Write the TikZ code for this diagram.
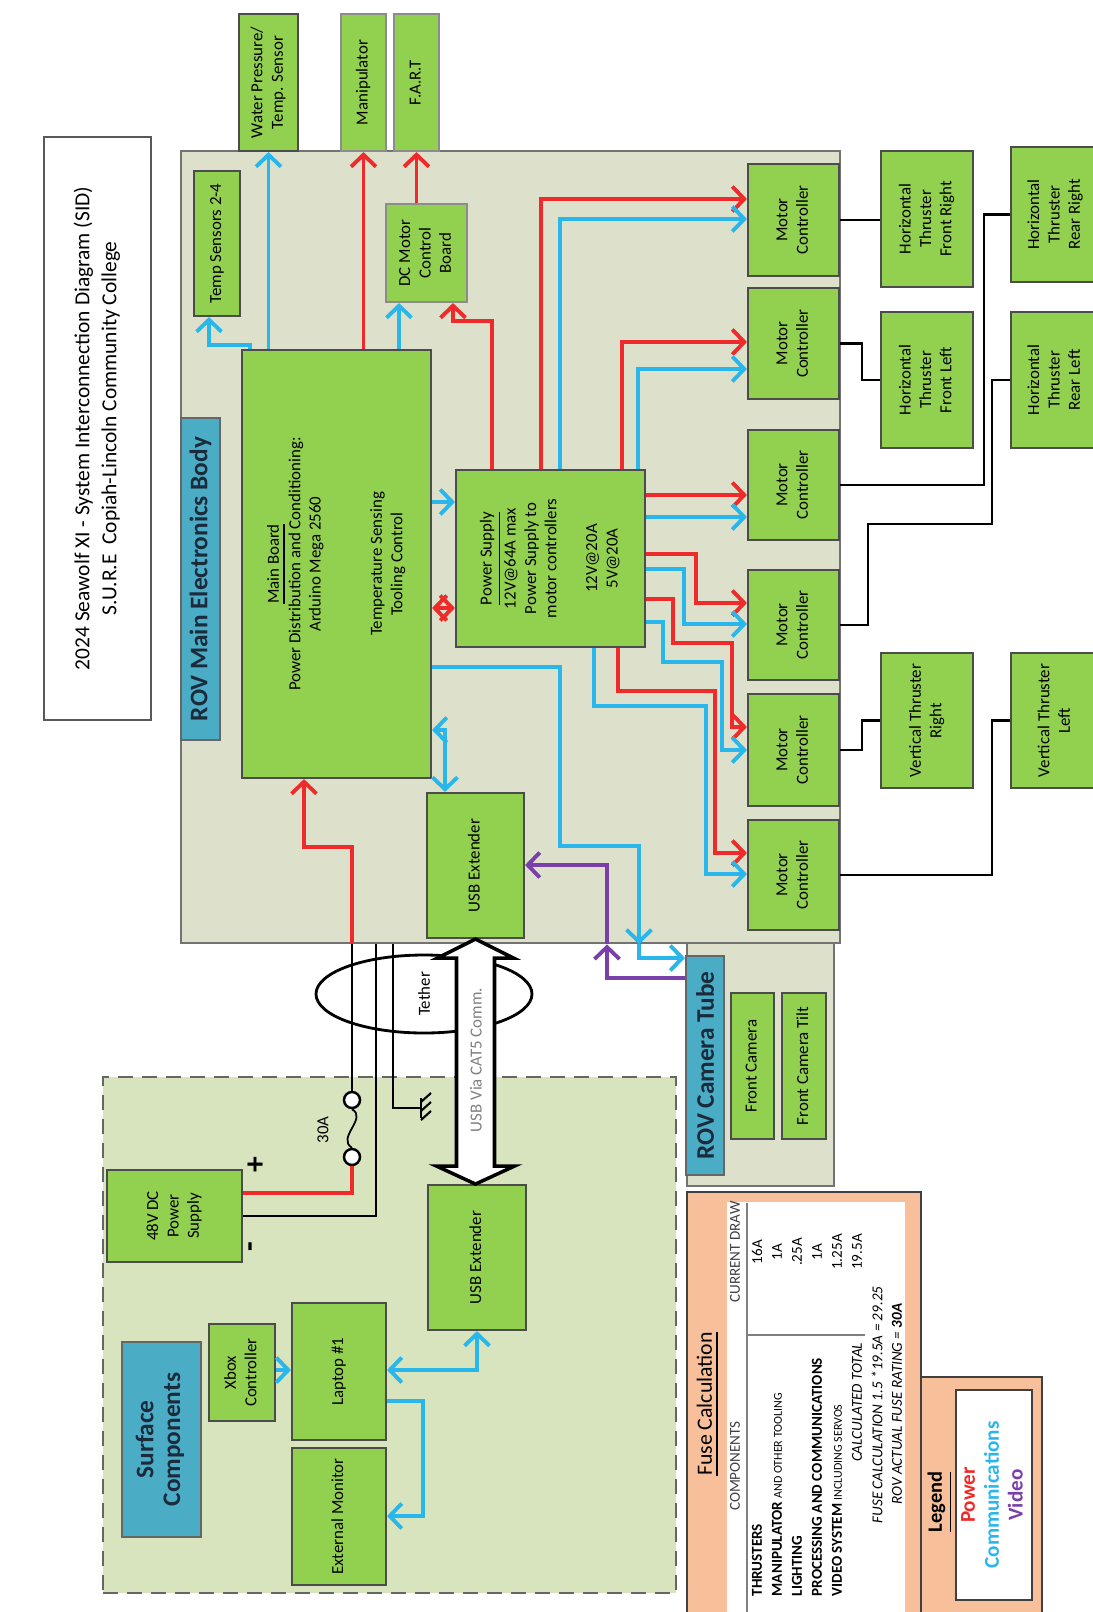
\documentclass[tikz,border=0pt]{standalone}
\usepackage{fontspec}
\setmainfont{Carlito}
\usepackage{graphicx}
\usepackage{xcolor}
\usetikzlibrary{arrows.meta,shapes.geometric}

\definecolor{boxgreen}{HTML}{92D050}
\definecolor{bodygray}{HTML}{DDE1CB}
\definecolor{surfgreen}{HTML}{D7E4BD}
\definecolor{tagblue}{HTML}{4BACC6}
\definecolor{tagtext}{HTML}{1B2B3B}
\definecolor{fusepeach}{HTML}{F7C09A}
\definecolor{pwrred}{HTML}{EE2A2A}
\definecolor{comblue}{HTML}{29B6EA}
\definecolor{vidpurple}{HTML}{7A3FA8}

\newcommand{\vtxt}[1]{\rotatebox{90}{\begin{tabular}{@{}c@{}}#1\end{tabular}}}
\newcommand{\boxfont}{\fontsize{4.8}{5.8}\selectfont}
\newcommand{\tagfont}{\fontsize{7.2}{7.6}\selectfont\bfseries}
\newcommand{\tblfont}{\fontsize{4.3}{5}\selectfont}
\newcommand{\tblsmall}{\fontsize{3.4}{4}\selectfont}

\begin{document}
\begin{tikzpicture}[x=0.1mm, y=-0.1mm,
  >={Straight Barb[length=1.2mm,width=2.5mm]},
  area/.style n args={4}{minimum width={(#3-#1)*0.1mm}, minimum height={(#4-#2)*0.1mm},
    at={({(#1+#3)/2},{(#2+#4)/2})}},
  blk/.style={draw=black!70, fill=boxgreen, line width=0.6pt, inner sep=0pt, font=\boxfont},
  tag/.style={draw=black!60, fill=tagblue, line width=0.6pt, inner sep=0pt, font=\tagfont, text=tagtext},
  pwr/.style={draw=pwrred, line width=1.1pt},
  com/.style={draw=comblue, line width=1.1pt},
  vid/.style={draw=vidpurple, line width=1.1pt},
  wire/.style={draw=black, line width=0.8pt},
  tbl/.style={rotate=90, inner sep=0pt, font=\tblfont}]

% Page
\useasboundingbox (0,0) rectangle (1092,1612);
\fill[white] (0,0) rectangle (1092,1612);

% Title
\node[draw=black!65, line width=0.8pt, fill=white, inner sep=0pt, font={\fontsize{6.1}{7.7}\selectfont},
  area={44}{137}{151}{720}] (title)
  {\vtxt{2024 Seawolf XI - System Interconnection Diagram (SID)\\S.U.R.E\ \ Copiah-Lincoln Community College}};

% ROV main electronics body and camera tube
\node[draw=black!55, fill=bodygray, line width=0.8pt, inner sep=0pt, area={181}{151}{840}{943}] (mainbody) {};
\node[draw=black!55, fill=bodygray, line width=0.8pt, inner sep=0pt, area={687}{943}{834}{1186}] (camtube) {};

% Tooling on top
\node[blk, area={239}{14}{298}{151}] (wps) {\vtxt{Water Pressure/\\Temp. Sensor}};
\node[blk, draw=black!45, area={341}{14}{386}{151}] (manip) {\vtxt{Manipulator}};
\node[blk, draw=black!45, area={394}{14}{439}{151}] (fart) {\vtxt{F.A.R.T}};

% Inside the body
\node[tag, area={181}{418}{220}{740}] (bodytag) {\rotatebox{90}{ROV Main Electronics Body}};
\node[blk, area={194}{171}{240}{316}] (tempsen) {\vtxt{Temp Sensors 2-4}};
\node[blk, draw=black!45, area={386}{204}{467}{302}] (dcmc) {\vtxt{DC Motor\\Control\\Board}};
\node[blk, area={242}{350}{431}{778}] (mainbrd) {\vtxt{\underline{Main Board}\\Power Distribution and Conditioning:\\Arduino Mega 2560\\ \\ \\Temperature Sensing\\Tooling Control}};
\node[blk, area={456}{470}{645}{647}] (pwrsup) {\vtxt{\underline{Power Supply}\\12V@64A max\\Power Supply to\\motor controllers\\ \\12V@20A\\5V@20A}};
\node[blk, area={427}{793}{524}{938}] (usbrov) {\vtxt{USB Extender}};
\foreach \i/\top/\bot in {1/164/276, 2/288/399, 3/430/540, 4/570/680, 5/694/806, 6/820/930}
  \node[blk, area={748}{\top}{839}{\bot}] (mc\i) {\vtxt{Motor\\Controller}};

% Thrusters
\node[blk, area={881}{151}{973}{287}] (htfr) {\vtxt{Horizontal\\Thruster\\Front Right}};
\node[blk, area={881}{312}{973}{448}] (htfl) {\vtxt{Horizontal\\Thruster\\Front Left}};
\node[blk, area={1011}{147}{1100}{282}] (htrr) {\vtxt{Horizontal\\Thruster\\Rear Right}};
\node[blk, area={1011}{312}{1100}{448}] (htrl) {\vtxt{Horizontal\\Thruster\\Rear Left}};
\node[blk, area={881}{653}{973}{788}] (vtr) {\vtxt{Vertical Thruster\\Right}};
\node[blk, area={1011}{653}{1100}{788}] (vtl) {\vtxt{Vertical Thruster\\Left}};

% Camera tube
\node[tag, area={686}{956}{724}{1175}] (camtag) {\rotatebox{90}{ROV Camera Tube}};
\node[blk, area={731}{993}{774}{1139}] (frontcam) {\vtxt{Front Camera}};
\node[blk, area={782}{993}{826}{1139}] (camtilt) {\vtxt{Front Camera Tilt}};

% Surface
\node[draw=black!60, dash pattern=on 1.5mm off 0.9mm, line width=0.8pt, fill=surfgreen, inner sep=0pt,
  area={103}{1077}{676}{1593}] (surface) {};
\node[tag, area={122}{1342}{201}{1537}] (surftag) {\vtxt{Surface\\Components}};
\node[blk, area={107}{1170}{242}{1262}] (psu48) {\vtxt{48V DC\\Power\\Supply}};
\node[blk, area={209}{1324}{275}{1421}] (xbox) {\vtxt{Xbox\\Controller}};
\node[blk, area={292}{1303}{386}{1440}] (laptop) {\vtxt{Laptop \#1}};
\node[blk, area={292}{1448}{386}{1585}] (extmon) {\vtxt{External Monitor}};
\node[blk, area={428}{1185}{526}{1330}] (usbsurf) {\vtxt{USB Extender}};
\node[rotate=90, font={\fontsize{9}{9}\selectfont\bfseries}] (plus) at (257,1165) {+};
\node[rotate=90, font={\fontsize{9}{9}\selectfont\bfseries}] (minus) at (254,1247) {-};
\node[rotate=90, font=\boxfont] (fuselbl) at (323,1130) {30A};

% Fuse calculation
\node[draw=black!75, fill=fusepeach, line width=0.8pt, inner sep=0pt, area={687}{1192}{921}{1625}] (fusebox) {};
\fill[white] (727,1202) rectangle (905,1625);
\node[rotate=90, font={\fontsize{6.2}{7}\selectfont}] (fusetitle) at (708,1404) {\underline{Fuse Calculation}};
\node[tbl, text=black!75] (hcomp) at (735,1466) {COMPONENTS};
\node[tbl, text=black!75] (hdraw) at (735,1252) {CURRENT DRAW};
\draw[black!50, line width=0.5pt] (747,1203) -- (747,1612);
\draw[black!50, line width=0.5pt] (747,1335) -- (865,1335);
\foreach \rx/\comp/\amp in {757/{\textbf{THRUSTERS}}/16A,
    777/{\textbf{MANIPULATOR} {\tblsmall AND OTHER TOOLING}}/1A,
    797/{\textbf{LIGHTING}}/.25A,
    817/{\textbf{PROCESSING AND COMMUNICATIONS}}/1A,
    837/{\textbf{VIDEO SYSTEM} {\tblsmall INCLUDING SERVOS}}/1.25A} {
  \node[tbl, anchor=west] (comp\rx) at (\rx,1597) {\comp};
  \node[tbl] (amp\rx) at (\rx,1252) {\amp};
}
\node[tbl, anchor=east] (caltot) at (857,1342) {\textit{CALCULATED TOTAL}};
\node[tbl] (caltotamp) at (857,1252) {19.5A};
\node[tbl] (fusecalc) at (877,1405) {\textit{FUSE CALCULATION 1.5 *19.5A = 29.25}};
\node[tbl] (fuserate) at (897,1404) {\textit{ROV ACTUAL FUSE RATING = \textbf{30A}}};

% Legend
\node[draw=black!75, fill=fusepeach, line width=0.8pt, inner sep=0pt, area={921}{1377}{1042}{1625}] (legbox) {};
\node[rotate=90, font={\fontsize{5.8}{6}\selectfont\bfseries}] (legtitle) at (940,1502) {\underline{Legend}};
\node[draw=black!75, fill=white, line width=0.8pt, inner sep=0pt, font={\fontsize{6}{6.8}\selectfont\bfseries},
  area={956}{1390}{1032}{1600}] (legin)
  {\vtxt{\textcolor{pwrred}{Power}\\\textcolor{comblue}{Communications}\\\textcolor{vidpurple}{Video}}};

% Main board to tooling
\draw[com,->] (mainbrd.north -| 250,0) -- (250,345) -| (tempsen.south -| 209,0);
\draw[com,->] (mainbrd.north -| wps) -- (wps.south);
\draw[pwr,->] (mainbrd.north -| manip) -- (manip.south);
\draw[com,->] (mainbrd.north -| 399,0) -- (dcmc.south -| 399,0);
\draw[pwr,->] (dcmc.north -| fart) -- (fart.south);
\draw[pwr,->] (pwrsup.north -| 492,0) |- (453,321) -- (dcmc.south -| 453,0);

% Main board to power supply
\draw[com,->] (mainbrd.east |- 0,502) -- (pwrsup.west |- 0,502);
\draw[pwr,<->] (mainbrd.east |- 0,608) -- (pwrsup.west |- 0,608);

% Power supply to motor controllers
\draw[pwr,->] (pwrsup.north -| 541,0) |- (mc1.west |- 0,199);
\draw[com,->] (pwrsup.north -| 560,0) |- (mc1.west |- 0,219);
\draw[pwr,->] (pwrsup.north -| 622,0) |- (mc2.west |- 0,342);
\draw[com,->] (pwrsup.north -| 638,0) |- (mc2.west |- 0,369);
\draw[pwr,->] (pwrsup.east |- 0,495) -- (mc3.west |- 0,495);
\draw[com,->] (pwrsup.east |- 0,517) -- (mc3.west |- 0,517);
\draw[pwr,->] (pwrsup.east |- 0,554) -| (696,603) -- (mc4.west |- 0,603);
\draw[com,->] (pwrsup.east |- 0,569) -| (684,624) -- (mc4.west |- 0,624);
\draw[pwr,->] (pwrsup.east |- 0,599) -| (673,643) -| (732,727) -- (mc5.west |- 0,727);
\draw[com,->] (pwrsup.east |- 0,622) -| (663,662) -| (722,750) -- (mc5.west |- 0,750);
\draw[pwr,->] (pwrsup.south -| 618,0) |- (715,691) |- (mc6.west |- 0,853);
\draw[com,->] (pwrsup.south -| 594,0) |- (706,706) |- (mc6.west |- 0,874);

% Motor controllers to thrusters
\draw[wire] (mc1.east) -- (htfr.west |- mc1.east);
\draw[wire] (mc2.east) -| (htfl.west -| 862,0) -- (htfl.west);
\draw[wire] (mc3.east) -| (htrr.west -| 984,0) -- (htrr.west);
\draw[wire] (mc4.east) -| (868,524) -| (htrl.west -| 992,0) -- (htrl.west);
\draw[wire] (mc5.east) -| (vtr.west -| 862,0) -- (vtr.west);
\draw[wire] (mc6.east) -| (vtl.west -| 992,0) -- (vtl.west);

% USB extender, camera and video
\draw[com,<->] (mainbrd.east |- 0,730) -| (usbrov.north -| 445,0);
\draw[com,->] (mainbrd.east |- 0,667) -| (560,846) -| (mainbody.south -| 639,0);
\draw[com,->] (mainbody.south -| 639,0) |- (camtag.west |- 0,958);
\draw[vid,->] (camtag.west |- 0,978) -| (mainbody.south -| 607,0);
\draw[vid,->] (mainbody.south -| 607,0) |- (usbrov.east |- 0,865);

% Surface links
\draw[com,->] (xbox.east |- 0,1370) -- (laptop.west |- 0,1370);
\draw[com,<->] (laptop.east |- 0,1370) -| (usbsurf.south -| 477,0);
\draw[com,->] (laptop.east |- 0,1401) -| (423,1516) -- (extmon.east |- 0,1516);

% Tether
\node[draw, ellipse, line width=0.8pt, minimum width=21.6mm, minimum height=7.8mm, inner sep=0pt, font=\boxfont]
  (tether) at (424,994) {\rotatebox{90}{Tether}};
\node[circle, draw, fill=white, line width=0.7pt, minimum size=1.6mm, inner sep=0pt] (fusea) at (352,1100) {};
\node[circle, draw, fill=white, line width=0.7pt, minimum size=1.6mm, inner sep=0pt] (fuseb) at (352,1157) {};
\draw[line width=0.5pt] (fusea.south) .. controls (368,1118) and (336,1138) .. (fuseb.north);
\draw[pwr] (psu48.east |- 0,1193) -| (fuseb.south);
\draw[pwr,->] (mainbody.south -| fusea) |- (304,847) -- (mainbrd.south -| 304,0);
\draw[wire] (fusea.north) -- (mainbody.south -| fusea);
\draw[wire] (psu48.east |- 0,1216) -| (mainbody.south -| 376,0);
\coordinate (gnd) at (421,1108);
\draw[wire] (mainbody.south -| 393,0) |- (gnd);
\draw[line width=0.6pt] (gnd) ++(0,-10) -- ++(0,20);
\foreach \k in {0,1,2}
  \draw[line width=0.6pt] (gnd) ++(0,\k*9-6) -- ++(10,-9);

% USB via CAT5
\draw[line width=1pt, fill=white] (usbrov.south) -- ++(38,19) -- ++(-19,0) -- ++(0,208) -- ++(20,0)
  -- ++(-39,18) -- ++(-39,-18) -- ++(20,0) -- ++(0,-208) -- ++(-19,0) -- cycle;
\node[rotate=90, font=\boxfont, text=black!50] (catlbl) at (476,1060) {USB Via CAT5 Comm.};

\end{tikzpicture}
\end{document}
